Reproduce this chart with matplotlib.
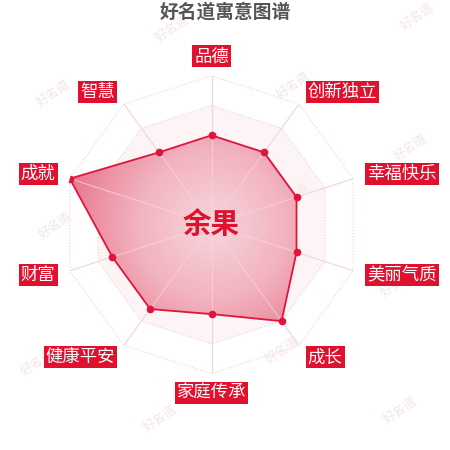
import numpy as np
import matplotlib
matplotlib.use('Agg')
import matplotlib.pyplot as plt
from matplotlib.colors import LinearSegmentedColormap

plt.rcParams['font.family'] = ['Noto Sans CJK SC', 'DejaVu Sans']

title = '好名道寓意图谱'
name = '余果'
indicators = ['品德', '创新独立', '幸福快乐', '美丽气质', '成长',
              '家庭传承', '健康平安', '财富', '成就', '智慧']
values = [60, 60, 60, 60, 80, 60, 70, 70, 100, 60]
levels = [20, 40, 60, 80, 100]
watermarks = [(172, 28), (417, 16), (53, 93), (293, 85), (410, 147),
              (55, 225), (293, 197), (170, 285), (397, 283), (282, 350),
              (37, 362), (160, 418), (400, 410)]

red = '#e0102f'
n = len(indicators)
theta = np.arange(n) * 2 * np.pi / n
theta_c = np.append(theta, theta[0])
vals_c = np.append(values, values[0])

W = H = 450
cx, cy, R = 211.5, 224.7, 149
rect = [(cx - R) / W, (H - cy - R) / H, 2 * R / W, 2 * R / H]

fig = plt.figure(figsize=(4.5, 4.5), dpi=100)
fig.patch.set_facecolor('white')

# watermarks
for (x, y) in watermarks:
    fig.text(x / W, 1 - y / H, '好名道', color='#f5e4e7', fontsize=9,
             rotation=35, ha='center', va='center', style='italic', zorder=0)

fig.text(0.5, 1 - 12 / H, title, color='#555555', fontsize=13.5,
         fontweight='bold', ha='center', va='center')


def setup_polar(a):
    a.set_theta_offset(np.pi / 2)
    a.set_theta_direction(-1)
    a.set_ylim(0, 100)
    a.grid(False)
    a.set_xticks([])
    a.set_yticks([])
    a.spines['polar'].set_visible(False)
    a.patch.set_alpha(0)


# background: split areas and grid
ax_bg = fig.add_axes(rect, projection='polar', zorder=0)
setup_polar(ax_bg)
band_colors = ['#fcf0f2', '#fdf3f5', '#fcf0f2', '#fdf4f6', '#ffffff']
for i in range(len(levels) - 1, -1, -1):
    ax_bg.fill(theta_c, [levels[i]] * (n + 1), color=band_colors[i], lw=0)
for lv in levels:
    ax_bg.plot(theta_c, [lv] * (n + 1), color='#f0cfd5', lw=0.8, ls=':')
for t in theta:
    ax_bg.plot([t, t], [0, 100], color='#f4d2d8', lw=0.8)

# front axes with outline
ax = fig.add_axes(rect, projection='polar', zorder=2)
setup_polar(ax)
poly = ax.fill(theta_c, vals_c, facecolor='none', edgecolor='none')[0]

# gradient fill clipped to the data polygon
ax_g = fig.add_axes(rect, zorder=1)
ax_g.set_xlim(-1, 1)
ax_g.set_ylim(-1, 1)
ax_g.axis('off')
ax_g.patch.set_alpha(0)
gx, gy = np.meshgrid(np.linspace(-1, 1, 400), np.linspace(-1, 1, 400))
rr = np.sqrt(gx ** 2 + gy ** 2)
cmap = LinearSegmentedColormap.from_list('pk', ['#f7d6dc', '#f2b3c0', '#e8768b'])
im = ax_g.imshow(rr, extent=(-1, 1, -1, 1), origin='lower', cmap=cmap,
                 vmin=0, vmax=1, interpolation='bilinear')
im.set_clip_path(poly)

for t, v in zip(theta, values):
    ax.plot([t, t], [0, v], color='#f7d6dc', lw=0.8, alpha=0.7)
ax.plot(theta_c, vals_c, color='#e0143c', lw=1.3)
ax.plot(theta, values, 'o', color='#e0143c', ms=4.5)

ax.text(0, 0, name, color=red, fontsize=20.5, fontweight='bold',
        ha='center', va='center', transform=ax.transData)

# indicator labels
for t, lab in zip(theta, indicators):
    s = np.sin(t)
    if abs(s) < 0.01:
        ha = 'center'
    elif s > 0:
        ha = 'left'
    else:
        ha = 'right'
    r = 110 if abs(s) > 0.01 else 113
    ax.text(t, r, lab, color='white', fontsize=12.5, ha=ha, va='center',
            bbox=dict(boxstyle='square,pad=0.12', fc=red, ec='none'))

fig.savefig('out.png', dpi=100)
